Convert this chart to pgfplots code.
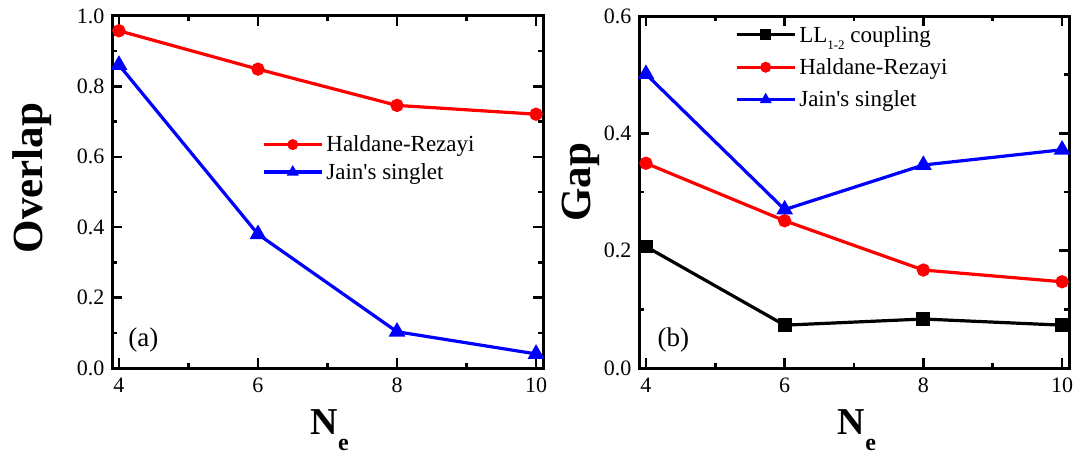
\documentclass[border=0pt]{standalone}
\usepackage{fontspec}
\setmainfont{Liberation Serif}
\usepackage{pgfplots}
\pgfplotsset{compat=1.18}

\pgfplotsset{
  panel/.style={
    scale only axis, height=352pt,
    xmin=3.9, xmax=10.1, xtick={4,6,8,10}, minor x tick num=1,
    ymin=0, minor y tick num=1,
    tick align=inside,
    axis line style={line width=3pt},
    every tick/.style={black, line width=2.5pt},
    major tick length=10pt, minor tick length=5pt,
    tick label style={font=\fontsize{22}{22}\selectfont},
    /pgf/number format/assume math mode=true,
    yticklabel style={xshift=-4pt, /pgf/number format/.cd, fixed, fixed zerofill, precision=1},
    xticklabel style={yshift=-6pt},
    xlabel={\textbf{N}\raisebox{-16pt}{\fontsize{24}{24}\selectfont\bfseries e}},
    xlabel style={font=\fontsize{38}{38}\selectfont\bfseries, anchor=base},
    ylabel style={font=\fontsize{43}{43}\selectfont\bfseries, anchor=base},
    legend cell align=left,
    legend style={draw=none, fill=none, font=\fontsize{23}{23}\selectfont,
      inner sep=0pt, nodes={inner xsep=3pt, inner ysep=0pt}},
    legend image code/.code={
      \draw[mark repeat=2, mark phase=2, mark size=3.8pt]
        plot coordinates {(0pt,0pt) (29pt,0pt) (58pt,0pt)};},
  },
  hr/.style={red, line width=3.2pt, mark=*, mark size=5pt},
  js/.style={blue, line width=3.2pt, mark=triangle*, mark size=6.5pt},
  ll/.style={black, line width=3.2pt, mark=square*, mark size=5.3pt},
}

\begin{document}
\begin{tikzpicture}
\useasboundingbox (0,0) rectangle (1075pt,455pt);

% (a) overlap
\begin{axis}[panel, at={(112pt,87pt)}, anchor=south west, width=431pt,
    ymax=1, ytick={0,0.2,0.4,0.6,0.8,1.0},
    ylabel={Overlap},
    ylabel style={at={(rel axis cs:-0.162,0.54)}},
    xlabel style={at={(rel axis cs:0.505,-0.19)}},
    legend style={at={(rel axis cs:0.348,0.66)}, anchor=north west, row sep=10pt}]
\addplot[hr] coordinates {(4,0.958) (6,0.849) (8,0.746) (10,0.721)};
\addlegendentry{Haldane-Rezayi}
\addplot[js] coordinates {(4,0.861) (6,0.380) (8,0.103) (10,0.040)};
\addlegendentry{Jain\textquotesingle s singlet}
\node[font=\fontsize{27}{27}\selectfont] at (rel axis cs:0.073,0.08) {(a)};
\end{axis}

% (b) gap
\begin{axis}[panel, at={(639pt,87pt)}, anchor=south west, width=430pt,
    ymax=0.6, ytick={0,0.2,0.4,0.6},
    ylabel={Gap},
    ylabel style={at={(rel axis cs:-0.112,0.527)}},
    xlabel style={at={(rel axis cs:0.507,-0.19)}},
    legend style={at={(rel axis cs:0.223,0.972)}, anchor=north west, row sep=15pt}]
\addplot[ll] coordinates {(4,0.207) (6,0.073) (8,0.0835) (10,0.073)};
\addlegendentry{LL\raisebox{-7.5pt}{\fontsize{13}{13}\selectfont 1-2} coupling}
\addplot[hr] coordinates {(4,0.349) (6,0.251) (8,0.167) (10,0.147)};
\addlegendentry{Haldane-Rezayi}
\addplot[js] coordinates {(4,0.501) (6,0.270) (8,0.346) (10,0.372)};
\addlegendentry{Jain\textquotesingle s singlet}
\node[font=\fontsize{27}{27}\selectfont] at (rel axis cs:0.08,0.08) {(b)};
\end{axis}
\end{tikzpicture}
\end{document}
